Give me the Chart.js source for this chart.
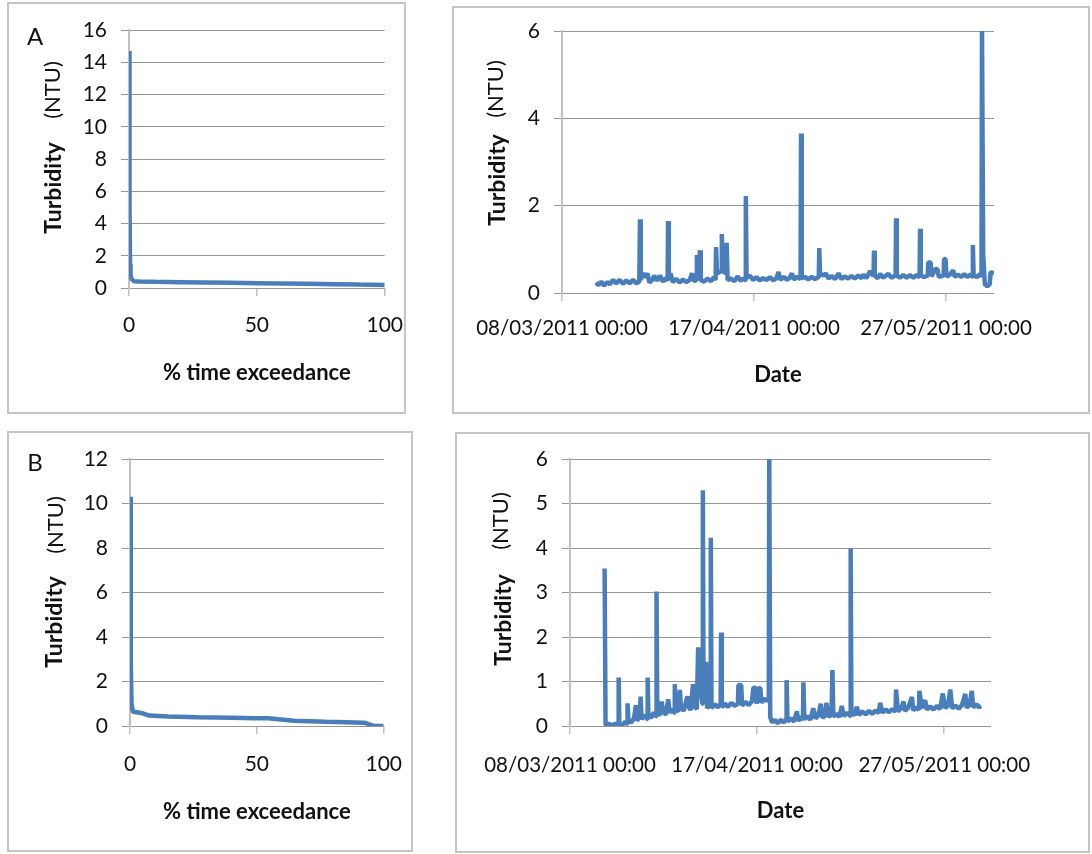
<!DOCTYPE html>
<html>
<head>
<meta charset="utf-8">
<title>Turbidity</title>
<script src="https://cdn.jsdelivr.net/npm/chart.js@4.4.1/dist/chart.umd.min.js"></script>
<style>
  html, body { margin: 0; padding: 0; background: #fff; }
  body { position: relative; width: 1092px; height: 854px; overflow: hidden; font-family: Lato, sans-serif; color: #111; }
  .frame { position: absolute; box-sizing: border-box; border: 2px solid #c4c4c4; }
  canvas { position: absolute; }
  .letter { position: absolute; font-size: 24px; line-height: 1; transform: translate(-50%, -50%); }
  .vtitle { position: absolute; font-size: 22px; line-height: 1; white-space: nowrap; transform: translate(-50%, -50%) rotate(-90deg); }
  .bold { font-weight: bold; font-size: 23px; }
</style>
</head>
<body>
<div class="frame" style="left:7px;top:2px;width:399px;height:412px"></div>
<div class="frame" style="left:452px;top:6px;width:638px;height:408px"></div>
<div class="frame" style="left:7px;top:431px;width:406px;height:421px"></div>
<div class="frame" style="left:455px;top:432px;width:635px;height:421px"></div>

<canvas id="durationA" width="420" height="420" style="left:0;top:0"></canvas>
<canvas id="seriesA" width="652" height="420" style="left:440px;top:0"></canvas>
<canvas id="durationB" width="420" height="429" style="left:0;top:425px"></canvas>
<canvas id="seriesB" width="652" height="429" style="left:440px;top:425px"></canvas>

<div class="letter" style="left:35px;top:36px">A</div>
<div class="letter" style="left:35px;top:462px">B</div>

<div class="vtitle bold" style="left:52px;top:188px">Turbidity</div>
<div class="vtitle" style="left:52px;top:90px">(NTU)</div>
<div class="vtitle bold" style="left:496px;top:180px">Turbidity</div>
<div class="vtitle" style="left:495px;top:89px">(NTU)</div>
<div class="vtitle bold" style="left:53px;top:622px">Turbidity</div>
<div class="vtitle" style="left:55px;top:525px">(NTU)</div>
<div class="vtitle bold" style="left:502px;top:620px">Turbidity</div>
<div class="vtitle" style="left:500px;top:521px">(NTU)</div>

<script>
// duration curves: % time exceedance vs turbidity (NTU)
const exceedA = [0, 0.2, 0.4, 0.6, 1, 2, 4, 10, 20, 30, 40, 50, 60, 70, 80, 90, 100];
const turbExceedA = [14.7, 5, 1.5, 0.8, 0.55, 0.42, 0.4, 0.38, 0.36, 0.34, 0.32, 0.3, 0.28, 0.26, 0.24, 0.21, 0.19];
const exceedB = [0, 0.3, 0.6, 1, 1.3, 5, 7.6, 15, 26.6, 40, 49.4, 54.4, 64.6, 77.2, 85, 92.4, 94, 96.2, 100];
const turbExceedB = [10.3, 3, 1, 0.72, 0.64, 0.57, 0.47, 0.43, 0.39, 0.37, 0.35, 0.35, 0.24, 0.19, 0.17, 0.15, 0.08, 0, 0];

// time series: [days since 08/03/2011, turbidity NTU]
const turbidityA = [
  [7.1,0.24],[7.6,0.18],[8.2,0.26],[8.8,0.17],[9.4,0.25],[10,0.2],[10.6,0.3],[11.3,0.22],[12,0.3],[12.7,0.21],
  [13.4,0.29],[14.1,0.22],[14.8,0.3],[15.5,0.22],[16.1,0.26],[16.25,1.69],[16.4,0.3],[16.8,0.45],[17.4,0.36],[17.8,0.45],
  [18.2,0.24],[18.8,0.3],[19.2,0.4],[19.8,0.28],[20.4,0.4],[21,0.26],[21.6,0.34],[22.0,0.28],[22.1,1.65],[22.25,0.3],
  [22.6,0.45],[23.1,0.25],[23.8,0.32],[24.5,0.24],[25.2,0.31],[25.9,0.25],[26.6,0.3],[27.1,0.45],[27.5,0.27],[28.0,0.3],
  [28.1,0.87],[28.3,0.35],[28.75,0.98],[28.9,0.3],[29.6,0.26],[30.3,0.33],[31,0.27],[31.6,0.36],[32.0,0.3],[32.1,1.05],
  [32.3,0.45],[33.2,0.5],[33.3,1.35],[33.5,0.5],[34.2,0.45],[34.3,1.15],[34.5,0.3],[35.2,0.33],[35.9,0.27],[36.6,0.38],
  [37.2,0.28],[37.8,0.33],[38.2,0.3],[38.3,2.22],[38.45,0.35],[39.1,0.4],[39.8,0.3],[40.5,0.36],[41.2,0.29],[41.9,0.34],
  [42.6,0.3],[43.3,0.36],[44,0.29],[44.7,0.34],[45.1,0.48],[45.5,0.3],[46.2,0.37],[46.9,0.3],[47.5,0.36],[47.9,0.45],
  [48.3,0.31],[49,0.37],[49.7,0.32],[49.8,3.65],[49.95,0.33],[50.6,0.37],[51.3,0.31],[52,0.37],[52.7,0.32],[53.5,0.37],
  [53.6,1.03],[53.75,0.45],[54.5,0.4],[55,0.45],[55.5,0.33],[56.2,0.39],[56.9,0.32],[57.6,0.45],[58.2,0.32],[58.9,0.38],
  [59.6,0.33],[60.3,0.39],[61,0.33],[61.7,0.4],[62.4,0.34],[62.8,0.42],[63.4,0.34],[64.2,0.5],[64.9,0.38],[65,0.97],
  [65.15,0.4],[65.8,0.34],[66.3,0.44],[66.9,0.35],[67.5,0.4],[68,0.44],[68.6,0.35],[69.5,0.4],[69.6,1.71],[69.75,0.4],
  [70.4,0.35],[71.1,0.41],[71.8,0.35],[72.5,0.41],[73.2,0.35],[73.9,0.41],[74.5,0.36],[74.6,1.47],[74.75,0.41],[75.4,0.36],
  [76.2,0.4],[76.3,0.7],[76.8,0.7],[77,0.38],[77.8,0.55],[78.2,0.55],[78.5,0.37],[79.5,0.4],[79.6,0.78],[79.9,0.78],
  [80.1,0.38],[80.8,0.42],[81.5,0.52],[81.8,0.37],[82.5,0.42],[83.2,0.37],[83.8,0.43],[84.4,0.37],[85.1,0.42],[85.5,0.38],
  [85.6,1.1],[85.75,0.4],[86.4,0.37],[87,0.42],[87.4,0.38],[87.5,6.0],[87.75,0.88],[88.1,0.2],[88.6,0.15],[89.1,0.2],
  [89.3,0.48],[90,0.45]
];
const turbidityB = [
  [7.4,3.54],[7.6,0.02],[8.3,0.05],[9,0.01],[9.7,0.05],[10.3,0.02],[10.4,1.09],[10.55,0.04],[11.2,0.02],[11.8,0.1],
  [12.2,0.05],[12.3,0.51],[12.5,0.12],[13.1,0.08],[13.7,0.18],[14.1,0.47],[14.3,0.12],[14.9,0.2],[15.1,0.66],[15.3,0.15],
  [15.9,0.24],[16.5,0.16],[16.6,1.09],[16.75,0.25],[17.3,0.18],[17.9,0.3],[18.4,0.22],[18.5,3.02],[18.65,0.3],[19.2,0.24],
  [19.6,0.55],[19.9,0.33],[20.5,0.25],[21,0.6],[21.3,0.3],[21.9,0.38],[22.3,0.3],[22.4,0.94],[22.6,0.38],[23.1,0.32],
  [23.5,0.81],[23.7,0.42],[24.3,0.34],[25.1,0.67],[25.3,0.44],[25.8,0.36],[26.3,0.94],[26.5,0.45],[27.1,0.38],[27.4,1.77],
  [27.7,1.0],[28.3,0.5],[28.4,5.3],[28.55,0.6],[29.1,1.44],[29.3,0.4],[30,0.5],[30.1,4.23],[30.25,0.4],[30.9,0.49],
  [31.6,0.42],[32.2,0.5],[32.3,2.1],[32.45,0.42],[33.1,0.5],[33.8,0.43],[34.5,0.52],[35.2,0.45],[35.9,0.5],[36,0.92],
  [36.6,0.92],[36.8,0.46],[37.5,0.54],[38.2,0.47],[38.9,0.55],[39.2,0.86],[39.7,0.86],[39.9,0.5],[40.3,0.85],[40.7,0.85],
  [40.9,0.52],[41.5,0.62],[42,0.56],[42.5,0.62],[42.6,6.0],[42.8,0.2],[43.2,0.08],[43.8,0.14],[44.4,0.06],[45,0.14],
  [45.7,0.08],[46.2,0.15],[46.3,1.03],[46.5,0.1],[47.2,0.17],[47.9,0.1],[48.5,0.33],[48.8,0.12],[49.5,0.2],[49.8,0.13],
  [49.9,0.98],[50.1,0.15],[50.7,0.22],[51.4,0.14],[52,0.4],[52.5,0.17],[53.1,0.24],[53.6,0.5],[54,0.18],[54.6,0.25],
  [54.8,0.52],[55.3,0.2],[55.9,0.27],[56.1,1.26],[56.3,0.21],[57,0.28],[57.6,0.2],[58.1,0.45],[58.5,0.22],[59.2,0.3],
  [59.9,0.23],[60,3.99],[60.15,0.3],[60.8,0.24],[61.3,0.43],[61.8,0.25],[62.5,0.33],[63.2,0.26],[63.9,0.34],[64.6,0.27],
  [65.3,0.35],[66,0.29],[66.3,0.52],[66.8,0.3],[67.5,0.37],[68.2,0.31],[68.9,0.38],[69.6,0.32],[69.7,0.82],[70.1,0.33],
  [70.8,0.4],[71.3,0.55],[71.6,0.34],[72.3,0.41],[73.1,0.65],[73.4,0.35],[74,0.42],[74.6,0.36],[74.7,0.79],[75.2,0.4],
  [75.9,0.58],[76.3,0.37],[77,0.44],[77.7,0.37],[78.4,0.45],[79.1,0.38],[79.7,0.73],[80.2,0.4],[80.8,0.46],[81.3,0.82],
  [81.7,0.4],[82.4,0.46],[83.1,0.39],[83.8,0.47],[84.5,0.72],[84.8,0.41],[85.4,0.48],[85.9,0.79],[86.2,0.42],[86.9,0.49],
  [87.4,0.42],[87.9,0.45]
];

const dateTicks = [0, 40, 80];
const dateTickLabels = ['08/03/2011 00:00', '17/04/2011 00:00', '27/05/2011 00:00'];

const lineBlue = '#4a7ebb';
const gridGrey = '#969696';
const axisGrey = '#c0c0c0';
const textColor = '#111';

function createChart(elementId, points, opts) {
    return new Chart(document.getElementById(elementId), {
        type: 'line',
        data: {
            datasets: [{
                data: points,
                borderColor: lineBlue,
                borderWidth: 4.5,
                borderJoinStyle: 'bevel',
                pointRadius: 0,
                tension: 0,
                fill: false
            }]
        },
        options: {
            responsive: false,
            animation: false,
            events: [],
            layout: { padding: opts.padding },
            plugins: { legend: { display: false }, tooltip: { enabled: false } },
            scales: {
                x: {
                    type: 'linear',
                    min: opts.xMin,
                    max: opts.xMax,
                    afterBuildTicks: opts.xTicks ? (s => { s.ticks = opts.xTicks.map(v => ({ value: v })); }) : undefined,
                    afterFit: s => { s.height = 120; },
                    ticks: {
                        stepSize: opts.xStep,
                        autoSkip: false,
                        maxRotation: 0,
                        color: textColor,
                        padding: opts.xTickPad,
                        font: { family: 'Lato', size: opts.xFont },
                        callback: opts.xLabel
                    },
                    grid: { drawOnChartArea: false, drawTicks: true, tickLength: 8, color: axisGrey, lineWidth: 1.5 },
                    border: { display: false },
                    title: {
                        display: true,
                        text: opts.xTitle,
                        color: textColor,
                        font: { family: 'Lato', size: 22, weight: 'bold' },
                        padding: { top: 0, bottom: opts.xTitlePad }
                    }
                },
                y: {
                    min: 0,
                    max: opts.yMax,
                    afterFit: s => { s.width = opts.yWidth; },
                    ticks: {
                        stepSize: opts.yStep,
                        color: textColor,
                        padding: 14,
                        font: { family: 'Lato', size: 21 }
                    },
                    grid: { color: gridGrey, lineWidth: 1, drawTicks: true, tickLength: 8 },
                    border: { display: true, color: axisGrey, width: 2 }
                }
            }
        }
    });
}

const toPoints = (xs, ys) => xs.map((x, i) => ({ x: x, y: ys[i] }));
const pairsToPoints = pairs => pairs.map(p => ({ x: p[0], y: p[1] }));
const dateLabel = v => { const i = dateTicks.indexOf(v); return i < 0 ? '' : dateTickLabels[i]; };

createChart('durationA', toPoints(exceedA, turbExceedA), {
    padding: { left: 0, top: 30, right: 28, bottom: 12 },
    xMin: 0, xMax: 100, xStep: 50, xFont: 21, xTickPad: 17,
    xTitle: '% time exceedance', xTitlePad: 22,
    yMax: 16, yStep: 2, yWidth: 129
});
createChart('seriesA', pairsToPoints(turbidityA), {
    padding: { left: 0, top: 31, right: 98, bottom: 7 },
    xMin: 0, xMax: 90, xTicks: dateTicks, xLabel: dateLabel, xFont: 20.5, xTickPad: 15,
    xTitle: 'Date', xTitlePad: 25,
    yMax: 6, yStep: 2, yWidth: 122
});
createChart('durationB', toPoints(exceedB, turbExceedB), {
    padding: { left: 0, top: 34, right: 27, bottom: 8 },
    xMin: 0, xMax: 100, xStep: 50, xFont: 21, xTickPad: 18,
    xTitle: '% time exceedance', xTitlePad: 21,
    yMax: 12, yStep: 2, yWidth: 130
});
createChart('seriesB', pairsToPoints(turbidityB), {
    padding: { left: 0, top: 34, right: 101, bottom: 8 },
    xMin: 0, xMax: 90, xTicks: dateTicks, xLabel: dateLabel, xFont: 20.5, xTickPad: 19,
    xTitle: 'Date', xTitlePad: 22,
    yMax: 6, yStep: 1, yWidth: 130
});
</script>
</body>
</html>
